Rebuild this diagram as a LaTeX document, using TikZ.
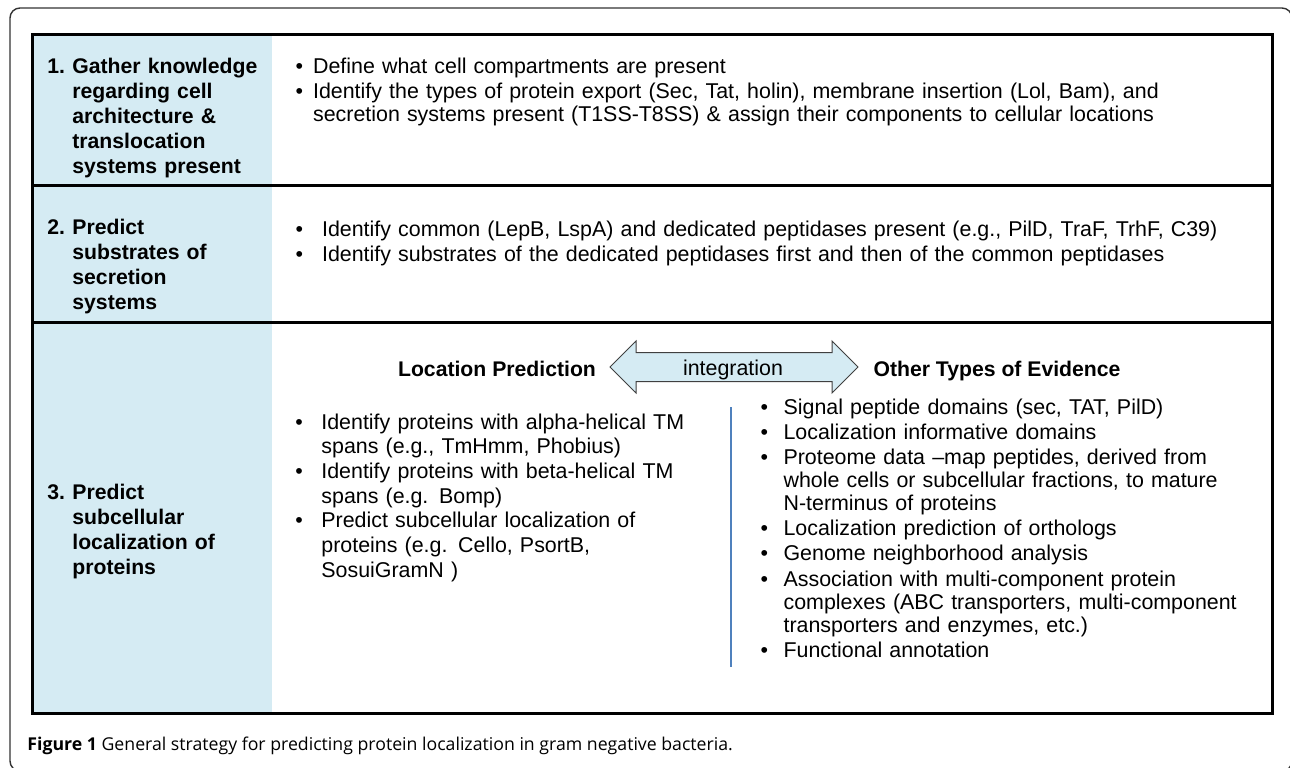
\documentclass[tikz,border=0pt]{standalone}
\usepackage{fontspec}
\setmainfont{Liberation Sans}
\newfontfamily\capfont{Open Sans}
\usetikzlibrary{positioning}

\definecolor{cellblue}{RGB}{213,235,243}
\definecolor{lineblue}{RGB}{79,129,189}

% bullets and numbers with hanging indent
\newcommand{\bfirst}[1]{\noindent\hangindent=#1\hangafter=1\makebox[#1][l]{\textbullet}}
\newcommand{\bitem}[1]{\par\bfirst{#1}}
\newcommand{\hnum}[1]{\noindent\hangindent=12.5pt\hangafter=1\makebox[12.5pt][l]{#1}}

\begin{document}
\begin{tikzpicture}[%
            x=0.5pt, y=-0.5pt,
            myhead/.style={anchor=base west,inner sep=0pt,text width=115pt,align=left,
                           font=\bfseries\fontsize{10.6}{12.6}\selectfont},
            mytext/.style={anchor=base west,inner sep=0pt,text width=480pt,align=left,
                           font=\fontsize{10.7}{11.5}\selectfont},
            mytitle/.style={anchor=base,inner sep=0pt,font=\bfseries\fontsize{10.6}{12.6}\selectfont},
            myrule/.style={line width=1.5pt},
            myfill/.style={fill=cellblue, draw=black!75, line width=0.5pt}
    ]
        \useasboundingbox (0,0) rectangle (1290,767);

        % outer frame
        \begin{scope}
            \clip (0,0) rectangle (1290,767);
            \draw [black!80, line width=0.7pt, rounded corners=5pt] (10,8) rectangle (1292,771);
        \end{scope}

        % table
        \fill [cellblue] (32,34) rectangle (272,713);
        \draw [myrule] (32,34) rectangle (1272,713);
        \draw [myrule] (32,185) -- (1272,185);
        \draw [myrule] (32,322) -- (1272,322);

        % row 1
        \node [myhead] (head1) at (47,73) {\hnum{1.}Gather knowledge\newline regarding cell\newline architecture \&\newline translocation\newline systems present\par};
        \node [mytext] (text1) at (295.2,73) {\setlength\parskip{1.1pt}%
            \bfirst{8.75pt}Define what cell compartments are present
            \bitem{8.75pt}Identify the types of protein export (Sec, Tat, holin), membrane insertion (Lol, Bam), and\newline
            secretion systems present (T1SS-T8SS) \& assign their components to cellular locations\par};

        % row 2
        \node [myhead] (head2) at (47,234) {\hnum{2.}Predict\newline substrates of\newline secretion\newline systems\par};
        \node [mytext] (text2) at (295.2,236) {\setlength\parskip{1.1pt}%
            \bfirst{13.25pt}Identify common (LepB, LspA) and dedicated peptidases present (e.g., PilD, TraF, TrhF, C39)
            \bitem{13.25pt}Identify substrates of the dedicated peptidases first and then of the common peptidases\par};

        % row 3
        \node [myhead] (head3) at (47,499) {\hnum{3.}Predict\newline subcellular\newline localization of\newline proteins\par};

        \node [mytitle] (locpred) at (497,376) {Location Prediction};
        \node [mytitle] (evidence) at (997,376) {Other Types of Evidence};

        \filldraw [myfill] (610,367) -- (636,341) -- (636,352.5) -- (832,352.5) -- (832,341)
            -- (858,367) -- (832,393) -- (832,381.5) -- (636,381.5) -- (636,393) -- cycle;
        \node [anchor=base,inner sep=0pt,font=\fontsize{10.7}{12}\selectfont] (integ) at (733,375) {integration};

        \node [mytext,font=\fontsize{10.7}{12.35}\selectfont] (text3a) at (295,429) {%
            \bfirst{13pt}Identify proteins with alpha-helical TM\newline spans (e.g., TmHmm, Phobius)
            \bitem{13pt}Identify proteins with beta-helical TM\newline spans (e.g. Bomp)
            \bitem{13pt}Predict subcellular localization of\newline proteins (e.g. Cello, PsortB,\newline SosuiGramN )\par};

        \draw [lineblue, line width=0.6pt] (731,407) -- (731,667);

        \node [mytext] (text3b) at (760.2,414) {\setlength\parskip{1.1pt}%
            \bfirst{11.5pt}Signal peptide domains (sec, TAT, PilD)
            \bitem{11.5pt}Localization informative domains
            \bitem{11.5pt}Proteome data --map peptides, derived from\newline whole cells or subcellular fractions, to mature\newline N-terminus of proteins
            \bitem{11.5pt}Localization prediction of orthologs
            \bitem{11.5pt}Genome neighborhood analysis
            \bitem{11.5pt}Association with multi-component protein\newline complexes (ABC transporters, multi-component\newline transporters and enzymes, etc.)
            \bitem{11.5pt}Functional annotation\par};

        % caption
        \node [anchor=base west,inner sep=0pt,font=\capfont\fontsize{8.85}{10}\selectfont] (caption) at (27,750)
            {\textbf{Figure 1} General strategy for predicting protein localization in gram negative bacteria.};
    \end{tikzpicture}
\end{document}
